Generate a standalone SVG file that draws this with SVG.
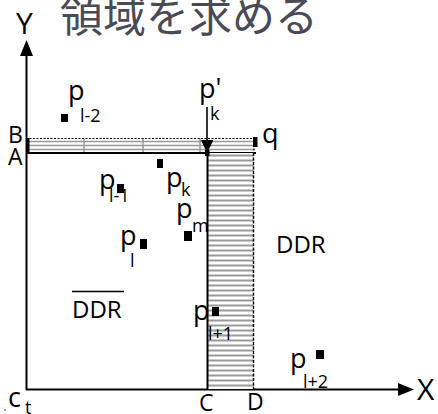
<svg xmlns="http://www.w3.org/2000/svg" width="438" height="414" viewBox="0 0 438 414">
<defs>
<style>
.t{font-family:"Open Sans","Noto Sans",sans-serif;fill:#000}
.p{font-size:27px}
.s{font-size:18px}
.lbl{font-size:23px}
.ax{font-size:30px}
.ddr{font-size:24px}
.title{font-family:"Noto Sans CJK JP",sans-serif;font-size:43px;fill:#4a4a56}
.hatch{stroke:#999;stroke-width:1.5}
.pt{fill:#000}
</style>
<pattern id="vh" x="0" y="153" width="10" height="5" patternUnits="userSpaceOnUse">
<rect width="10" height="5" fill="#fff"/>
<line x1="0" y1="2.5" x2="10" y2="2.5" stroke="#9a9a9a" stroke-width="2"/>
</pattern>
</defs>
<rect width="438" height="414" fill="#fff"/>
<text class="title" x="60" y="32">領域を求める</text>

<g id="axes">
<line x1="26.5" y1="54" x2="26.5" y2="390" stroke="#000" stroke-width="2"/>
<polygon points="26.5,40 20,56 33,56" fill="#000"/>
<line x1="26" y1="389.5" x2="400" y2="389.5" stroke="#000" stroke-width="2"/>
<polygon points="414,389.5 398,383 398,396" fill="#000"/>
<text class="t ax" x="16" y="34">Y</text>
<text class="t ax" x="417" y="400">X</text>
</g>

<g id="p_m">
<text class="t p" x="176" y="218">p</text>
<text class="t s" x="192" y="232">m</text>
<rect class="pt" x="184" y="231" width="8" height="10"/>
</g>

<g id="hstrip">
<rect x="26" y="138" width="228" height="15" fill="#fff"/>
<line x1="26" y1="141.5" x2="254" y2="141.5" class="hatch"/>
<line x1="26" y1="145.5" x2="254" y2="145.5" class="hatch"/>
<line x1="26" y1="149.5" x2="254" y2="149.5" class="hatch"/>
<line x1="84" y1="138" x2="84" y2="153" class="hatch"/>
<line x1="143" y1="138" x2="143" y2="153" class="hatch"/>
<line x1="200" y1="138" x2="200" y2="153" class="hatch"/>
<line x1="26" y1="138.5" x2="254" y2="138.5" stroke="#000" stroke-width="1.2" stroke-dasharray="2,1.5"/>
<line x1="254" y1="138" x2="254" y2="153" stroke="#000" stroke-width="1.2" stroke-dasharray="2,1.5"/>
<line x1="26" y1="153" x2="256" y2="153" stroke="#000" stroke-width="2"/>
<rect x="26" y="138" width="3.5" height="15" fill="#000"/>
</g>

<g id="vstrip">
<rect x="207" y="153" width="47" height="236" fill="url(#vh)"/>
<line x1="207.5" y1="153" x2="207.5" y2="390" stroke="#000" stroke-width="2"/>
<line x1="253.5" y1="153" x2="253.5" y2="390" stroke="#000" stroke-width="1.4" stroke-dasharray="3,1.5"/>
</g>

<g id="connectors">
<line x1="207" y1="107" x2="207" y2="142" stroke="#000" stroke-width="1.6"/>
<polygon points="201,140 213.5,140 207,153" fill="#000"/>
<rect x="205" y="150" width="4.5" height="6" fill="#000"/>
</g>

<g id="q">
<rect class="pt" x="253" y="137" width="4.5" height="10"/>
<text class="t p" x="262" y="143">q</text>
</g>

<g id="AB">
<text class="t lbl" x="8" y="143">B</text>
<text class="t lbl" x="8" y="165">A</text>
</g>

<g id="p_l-2">
<rect class="pt" x="61" y="114" width="7" height="8"/>
<text class="t p" x="68" y="100">p</text>
<text class="t s" x="80" y="122">l-2</text>
</g>

<g id="p_k_prime">
<text class="t p" x="199" y="98">p'</text>
<text class="t s" x="210" y="120">k</text>
</g>

<g id="p_k">
<rect class="pt" x="157" y="159" width="6" height="9"/>
<text class="t p" x="166" y="187">p</text>
<text class="t s" x="181" y="196">k</text>
</g>

<g id="p_l-1">
<rect class="pt" x="117" y="184" width="7" height="9"/>
<text class="t p" x="99" y="189">p</text>
<text class="t s" x="109" y="202">l-1</text>
</g>

<g id="p_l">
<rect class="pt" x="140" y="239" width="7" height="10"/>
<text class="t p" x="120" y="245">p</text>
<text class="t s" x="130" y="267">l</text>
</g>

<g id="p_l+1">
<rect class="pt" x="212" y="307" width="7" height="9"/>
<text class="t p" x="193" y="320">p</text>
<text class="t s" x="208" y="340">l+1</text>
</g>

<g id="p_l+2">
<rect class="pt" x="316" y="350" width="8" height="9"/>
<text class="t p" x="290" y="368">p</text>
<text class="t s" x="303" y="388">l+2</text>
</g>

<g id="DDR">
<text class="t ddr" x="276" y="253">DDR</text>
</g>

<g id="DDR_bar">
<text class="t ddr" x="72" y="318">DDR</text>
<line x1="72" y1="291.5" x2="124" y2="291.5" stroke="#000" stroke-width="1.5"/>
</g>

<g id="CD">
<text class="t lbl" x="199" y="411">C</text>
<text class="t lbl" x="247" y="410">D</text>
</g>

<g id="ct">
<text class="t" style="font-size:27px" x="8" y="407">c</text>
<text class="t s" x="25" y="414">t</text>
<rect x="4" y="409" width="2" height="2" fill="#8fa9c7"/>
</g>
</svg>
